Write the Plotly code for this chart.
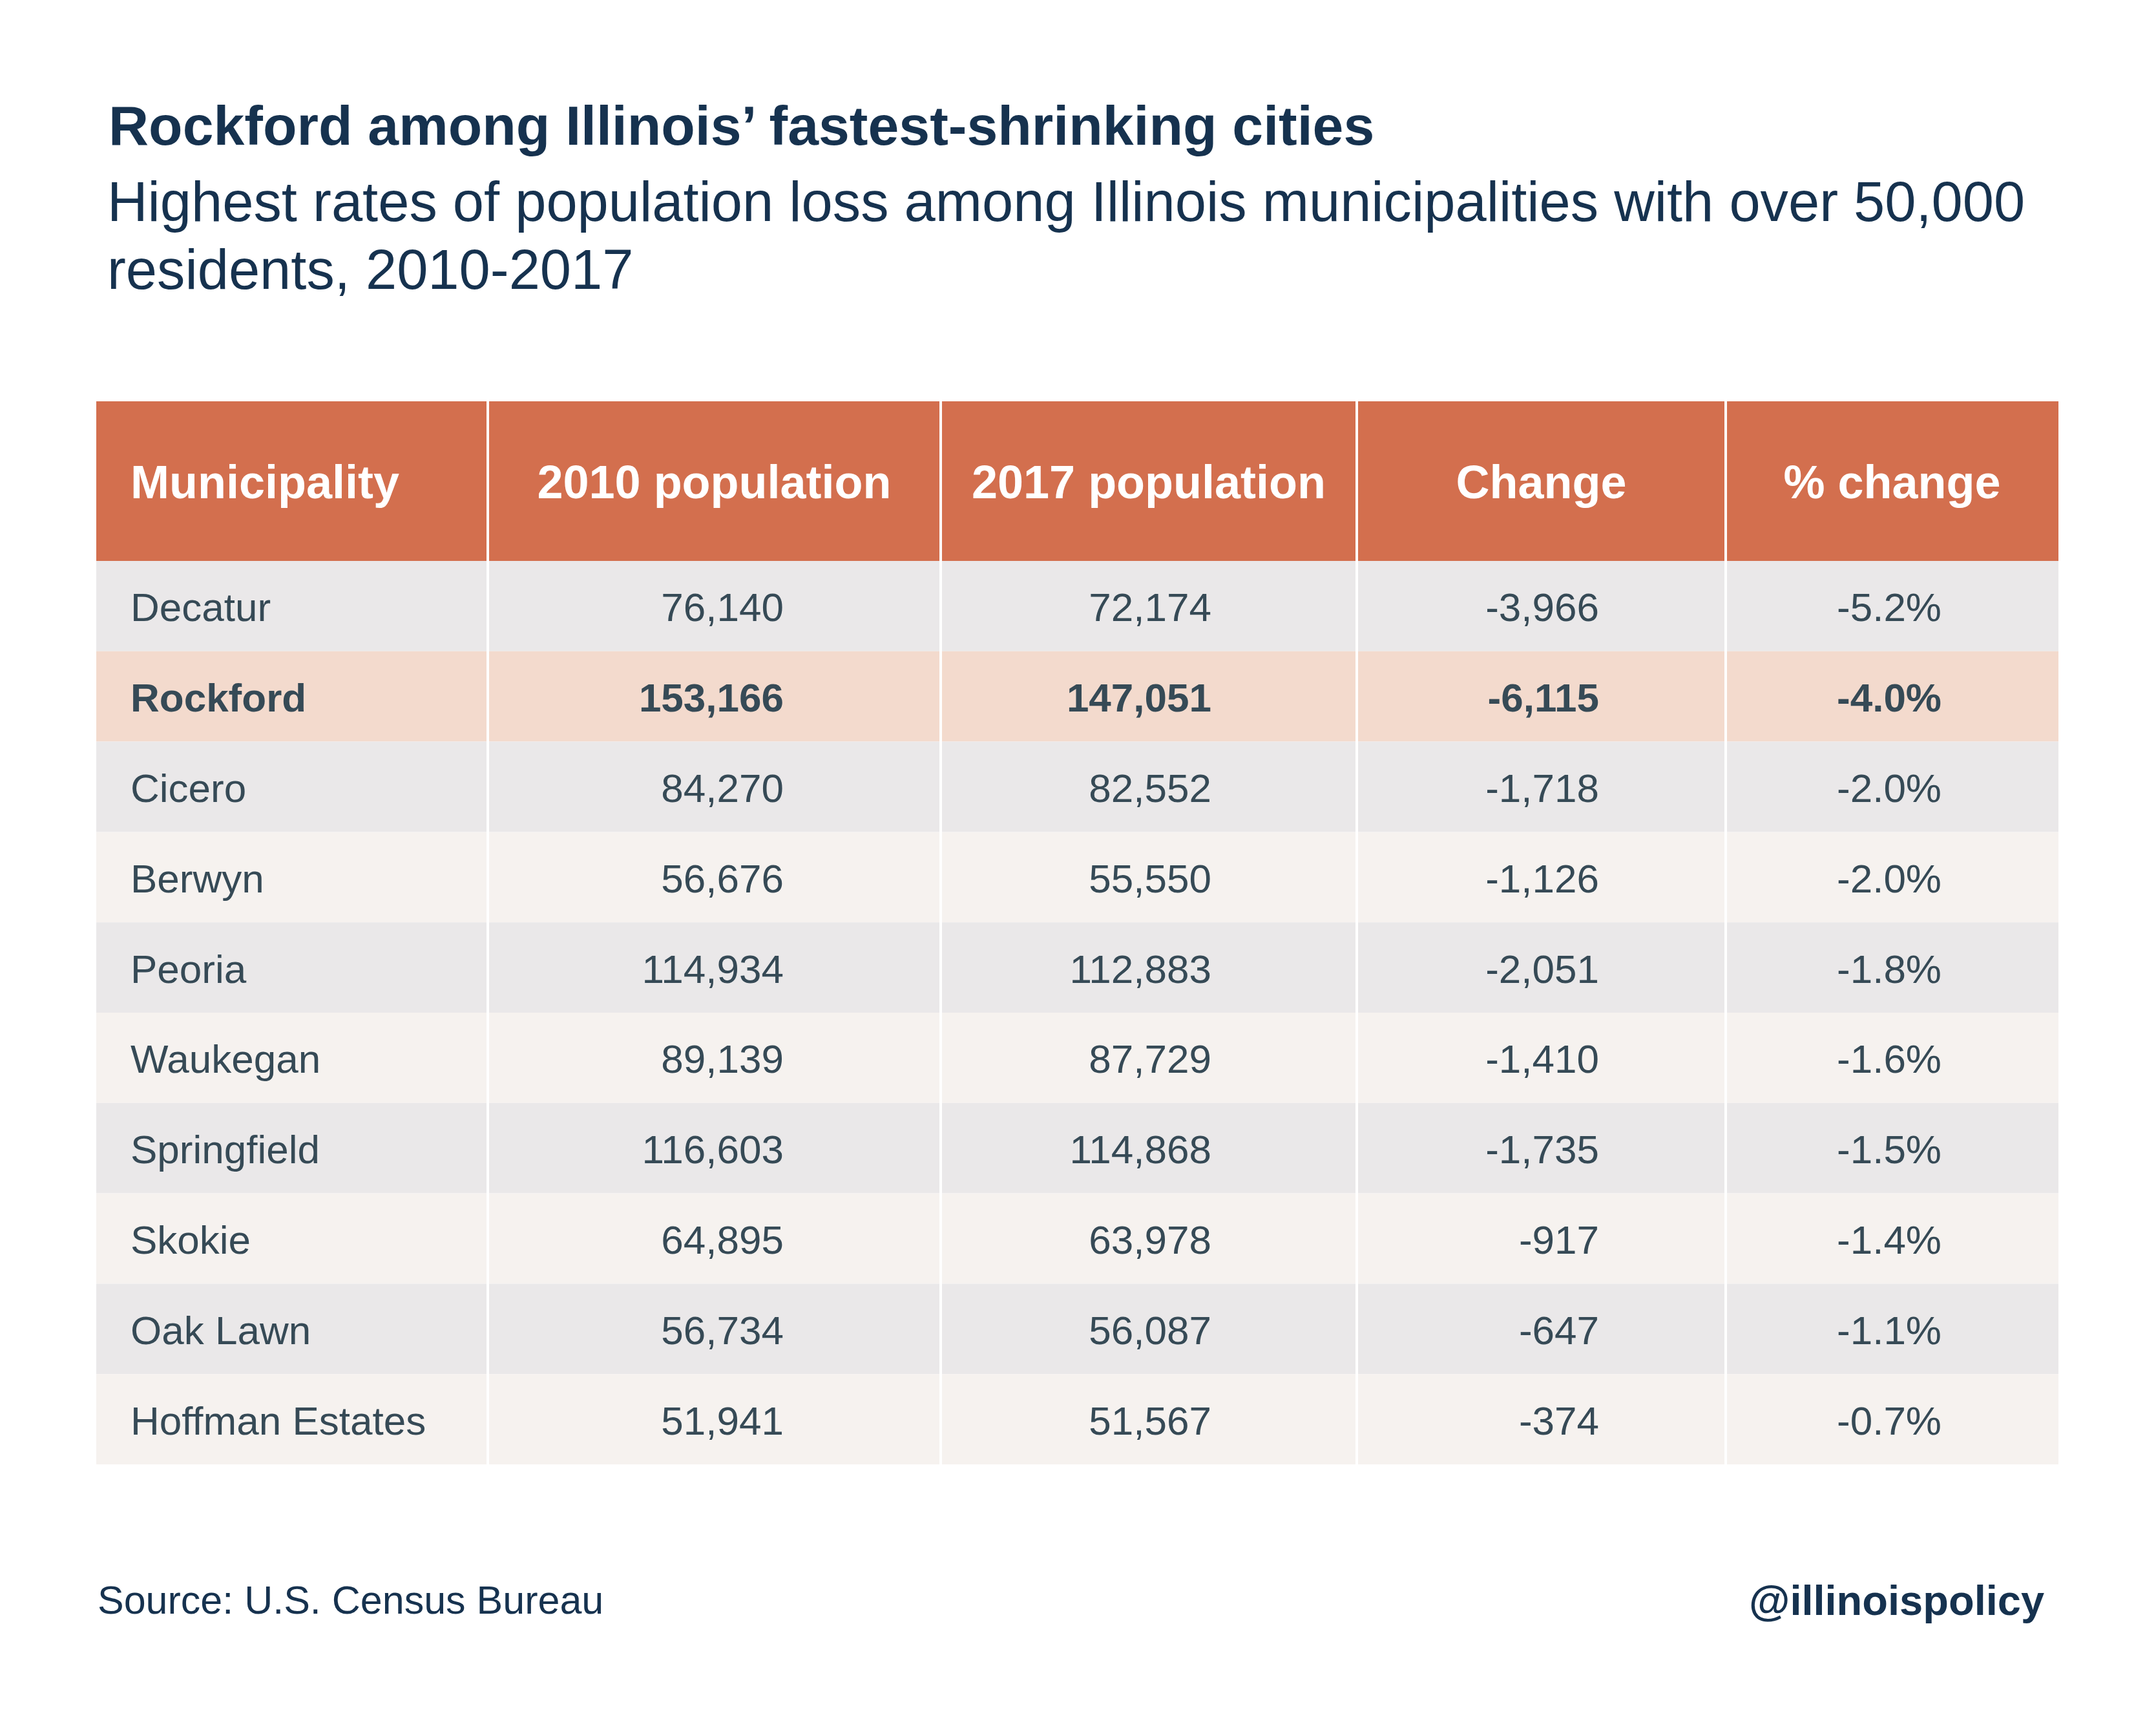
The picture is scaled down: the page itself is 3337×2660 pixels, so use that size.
import plotly.graph_objects as go

# ---------------- data ----------------
municipalities = ["Decatur", "Rockford", "Cicero", "Berwyn", "Peoria", "Waukegan",
                  "Springfield", "Skokie", "Oak Lawn", "Hoffman Estates"]
pop_2010 = [76140, 153166, 84270, 56676, 114934, 89139, 116603, 64895, 56734, 51941]
pop_2017 = [72174, 147051, 82552, 55550, 112883, 87729, 114868, 63978, 56087, 51567]
change = [-3966, -6115, -1718, -1126, -2051, -1410, -1735, -917, -647, -374]
pct_change = [-5.2, -4.0, -2.0, -2.0, -1.8, -1.6, -1.5, -1.4, -1.1, -0.7]
headers = ["Municipality", "2010 population", "2017 population", "Change", "% change"]
highlight = "Rockford"

title = "Rockford among Illinois’ fastest-shrinking cities"
subtitle_lines = ["Highest rates of population loss among Illinois municipalities with over 50,000",
                  "residents, 2010-2017"]
source = "Source: U.S. Census Bureau"
handle = "@illinoispolicy"

# ---------------- layout constants ----------------
W, H = 3337, 2660
OFF = 8  # page body margin compensation
TXT_DY = 8  # vertical nudge for cell text
FONT = "Liberation Sans, Arial, Helvetica, sans-serif"
NAVY = "#16324F"
TEXT = "#364A56"
HEADER = "#D36F4E"
ROW_A = "#EAE8E9"
ROW_B = "#F6F2EF"
ROW_HL = "#F3DACD"

col_edges = [149, 755, 1456, 2100, 2671, 3186]
header_top, header_bot = 621, 868
row_h = 139.8
name_x = 202
value_right = [1213, 1875, 2475, 3005]

n = len(municipalities)
row_centers = [header_bot + (i + 0.5) * row_h + TXT_DY for i in range(n)]
table_bot = header_bot + n * row_h

shapes = []
# header
shapes.append(dict(type="rect", xref="x", yref="y", x0=col_edges[0], x1=col_edges[-1],
                   y0=header_top, y1=header_bot, fillcolor=HEADER, line=dict(width=0), layer="below"))
# rows
for i, name in enumerate(municipalities):
    color = ROW_HL if name == highlight else (ROW_A if i % 2 == 0 else ROW_B)
    shapes.append(dict(type="rect", xref="x", yref="y", x0=col_edges[0], x1=col_edges[-1],
                       y0=header_bot + i * row_h, y1=header_bot + (i + 1) * row_h,
                       fillcolor=color, line=dict(width=0), layer="below"))
# vertical white dividers
for xe in col_edges[1:-1]:
    shapes.append(dict(type="line", xref="x", yref="y", x0=xe, x1=xe, y0=header_top, y1=table_bot,
                       line=dict(color="white", width=4), layer="below"))

fig = go.Figure()

# header text
header_y = (header_top + header_bot) / 2 + TXT_DY
fig.add_trace(go.Scatter(
    x=[name_x], y=[header_y], mode="text", text=[f"<b>{headers[0]}</b>"],
    textposition="middle right", textfont=dict(family=FONT, size=72, color="white"),
    hoverinfo="skip", cliponaxis=False, showlegend=False))
hdr_centers = [(col_edges[k] + col_edges[k + 1]) / 2 for k in range(1, 5)]
fig.add_trace(go.Scatter(
    x=hdr_centers, y=[header_y] * 4, mode="text", text=[f"<b>{h}</b>" for h in headers[1:]],
    textposition="middle center", textfont=dict(family=FONT, size=72, color="white"),
    hoverinfo="skip", cliponaxis=False, showlegend=False))


def fmt(s, name):
    return f"<b>{s}</b>" if name == highlight else s


# names
fig.add_trace(go.Scatter(
    x=[name_x] * n, y=row_centers, mode="text",
    text=[fmt(m, m) for m in municipalities],
    textposition="middle right", textfont=dict(family=FONT, size=62, color=TEXT),
    hoverinfo="skip", cliponaxis=False, showlegend=False))

columns = [
    [f"{v:,}" for v in pop_2010],
    [f"{v:,}" for v in pop_2017],
    [f"{v:,}" for v in change],
    [f"{v:.1f}%" for v in pct_change],
]
for k, col in enumerate(columns):
    fig.add_trace(go.Scatter(
        x=[value_right[k]] * n, y=row_centers, mode="text",
        text=[fmt(s, m) for s, m in zip(col, municipalities)],
        textposition="middle left", textfont=dict(family=FONT, size=62, color=TEXT),
        hoverinfo="skip", cliponaxis=False, showlegend=False))

annotations = [
    dict(text=f"<b>{title}</b>", x=166, y=194, xref="x", yref="y", xanchor="left", yanchor="middle",
         showarrow=False, font=dict(family=FONT, size=86, color=NAVY)),
    dict(text=subtitle_lines[0], x=164, y=312, xref="x", yref="y", xanchor="left", yanchor="middle",
         showarrow=False, font=dict(family=FONT, size=86.7, color=NAVY)),
    dict(text=subtitle_lines[1], x=164, y=417, xref="x", yref="y", xanchor="left", yanchor="middle",
         showarrow=False, font=dict(family=FONT, size=86.7, color=NAVY)),
    dict(text=source, x=149, y=2476, xref="x", yref="y", xanchor="left", yanchor="middle",
         showarrow=False, font=dict(family=FONT, size=61, color=NAVY)),
    dict(text=f"<b>{handle}</b>", x=3166, y=2476, xref="x", yref="y", xanchor="right", yanchor="middle",
         showarrow=False, font=dict(family=FONT, size=65, color=NAVY)),
]

fig.update_layout(
    width=W, height=H,
    margin=dict(l=0, r=0, t=0, b=0),
    paper_bgcolor="white", plot_bgcolor="white",
    xaxis=dict(range=[OFF, W + OFF], visible=False, fixedrange=True),
    yaxis=dict(range=[H + OFF, OFF], visible=False, fixedrange=True),
    shapes=shapes, annotations=annotations, showlegend=False,
)

fig.write_html("out.html")
